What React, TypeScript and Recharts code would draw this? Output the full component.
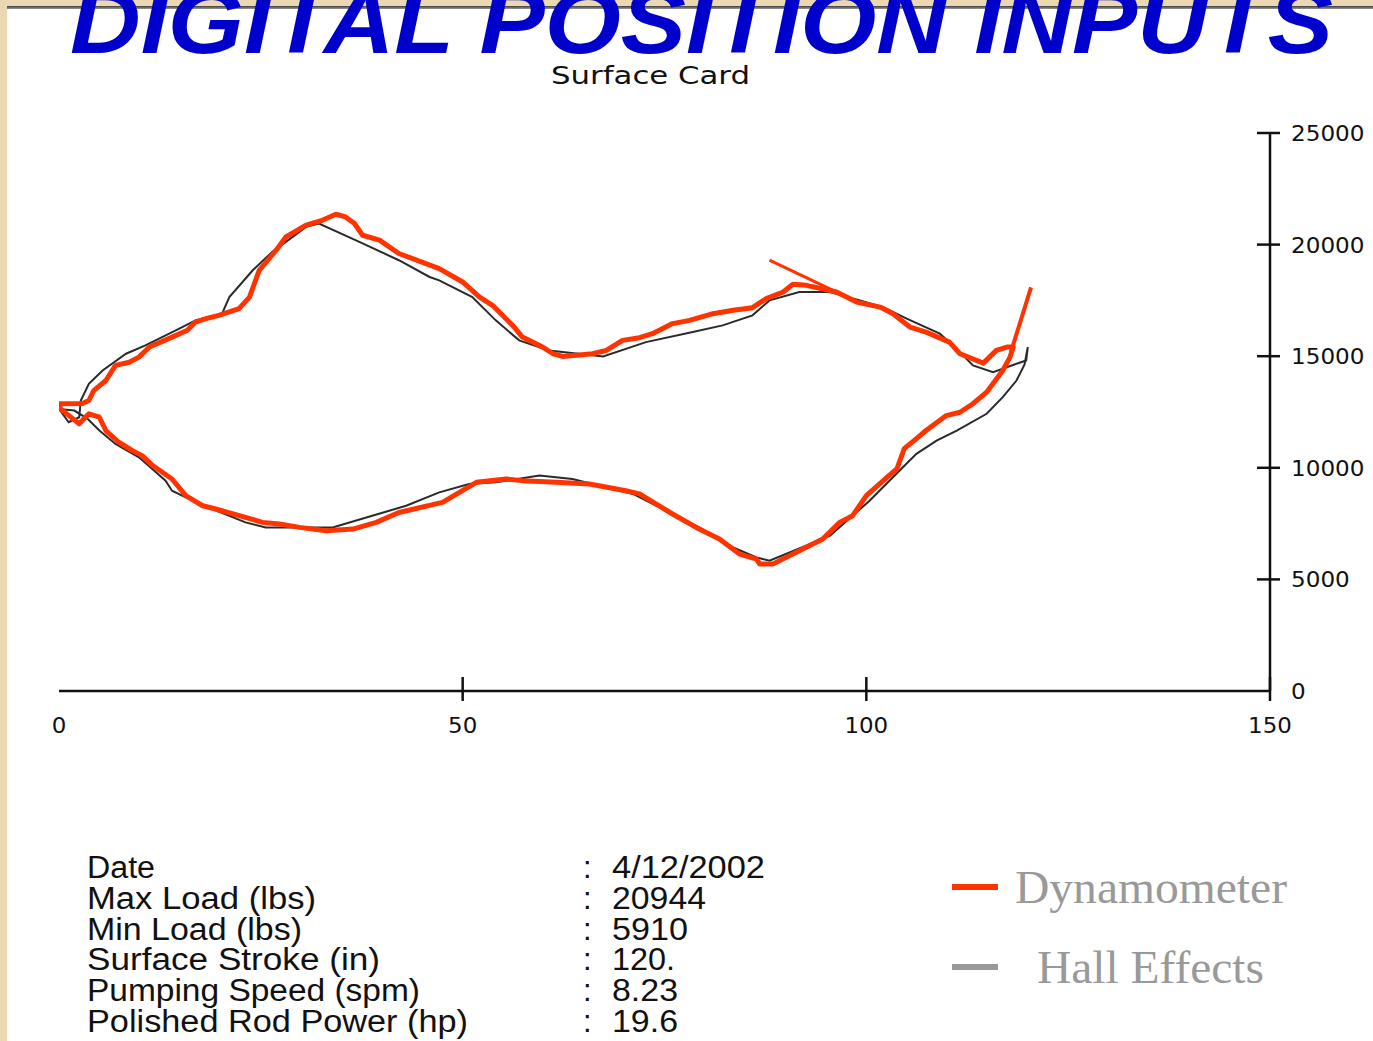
import { Legend, Line, LineChart, XAxis, YAxis } from "recharts";

const W = 1373;
const H = 1041;

// Dynamometer card (red): position (in) and load (lbs), in drawing order
const dynPos = [
  0, 2.9, 3.7, 4.3, 5.8, 7.0, 8.7, 9.9, 11.2, 14.0, 15.9, 16.9, 18.2, 19.8, 22.3, 23.6, 24.8, 26.9, 28.1, 30.6,
  32.6, 34.3, 35.5, 36.6, 37.6, 39.7, 42.1, 47.1, 50.0, 52.1, 53.7, 56.2, 57.4, 59.9, 61.2, 62.4, 66.1, 67.8, 69.8, 71.9,
  73.5, 76.0, 78.1, 81.0, 83.5, 85.9, 87.6, 89.7, 90.9, 92.6, 96.3, 98.8, 101.7, 103.3, 105.4, 107.4, 110.3, 111.6, 114.5, 116.1,
  117.4, 118.2,
  117.8, 116.9, 114.9, 113.2, 111.6, 109.9, 107.4, 106.2, 104.7, 103.8, 102.1, 100.0, 98.3, 96.7, 94.6, 91.7, 88.4, 86.8, 86.4, 84.3,
  81.8, 79.3, 76.0, 71.9, 70.2, 65.7, 61.6, 57.4, 55.4, 51.7, 49.6, 47.5, 42.1, 39.3, 36.4, 33.1, 29.8, 27.3, 25.2, 23.1,
  19.4, 17.8, 15.7, 14.0, 11.6, 10.3, 9.1, 7.4, 5.8, 5.0, 3.7, 2.5, 0.2, 0,
];
const dynLoad = [
  12870, 12880, 13015, 13460, 13910, 14590, 14730, 14960, 15410, 15855, 16160, 16530, 16680, 16830, 17130, 17650, 18850, 19750, 20340, 20870,
  21090, 21360, 21240, 20945, 20420, 20200, 19600, 18925, 18325, 17650, 17280, 16380, 15855, 15410, 15110, 14990, 15110, 15260, 15710, 15830,
  16010, 16460, 16605, 16905, 17055, 17175, 17580, 17875, 18220, 18175, 17875, 17425, 17200, 16905, 16305, 16080, 15630, 15110, 14690, 15260,
  15410, 15410,
  14960, 14360, 13390, 12870, 12490, 12340, 11670, 11310, 10860, 9965, 9425, 8750, 7855, 7555, 6810, 6285, 5685, 5685, 5910, 6135,
  6810, 7255, 7930, 8830, 8975, 9275, 9350, 9425, 9500, 9350, 8900, 8450, 8000, 7555, 7255, 7180, 7330, 7480, 7555, 7780,
  8155, 8300, 8750, 9500, 10100, 10545, 10770, 11145, 11670, 12265, 12420, 11970, 12640, 12870,
];

// the two thin red spikes on the dynamometer trace
const spikeA = { pos: [88.0, 96.4], load: [19300, 17860] };
const spikeB = { pos: [117.9, 120.4], load: [15170, 18085] };

// Hall effects card (dark)
const hallPos = [
  0, 1.2, 2.5, 2.7, 3.7, 5.4, 8.3, 10.7, 14.9, 16.9, 20.2, 21.1, 24.0, 26.4, 28.1, 30.6, 32.2, 37.2, 42.1, 45.9,
  47.1, 51.2, 54.1, 57.0, 60.7, 67.4, 72.7, 78.5, 82.2, 85.9, 88.0, 91.7, 95.5, 99.2, 102.1, 105.0, 109.1, 111.2, 113.2, 115.7,
  118.6, 119.8, 120.0, 119.6, 118.6, 116.9, 114.9, 111.2, 108.7, 106.2, 103.7, 100.4, 95.5, 90.5, 88.0, 86.4, 83.5, 79.3, 76.0, 71.1,
  63.6, 59.5, 54.1, 50.8, 47.1, 43.0, 38.8, 33.9, 25.6, 23.1, 19.0, 15.7, 14.0, 13.2, 9.9, 7.0, 5.0, 3.5, 1.9, 0,
];
const hallLoad = [
  12640, 12040, 12265, 13015, 13765, 14360, 15110, 15485, 16235, 16605, 16905, 17650, 18850, 19670, 20120, 20795, 20945, 20120, 19300, 18550,
  18400, 17650, 16605, 15710, 15260, 14990, 15630, 16080, 16380, 16830, 17500, 17875, 17875, 17500, 17200, 16680, 16010, 15335, 14585, 14285,
  14660, 14810, 15410, 14630, 13910, 13165, 12420, 11670, 11220, 10625, 9725, 8525, 6955, 6205, 5835, 5985, 6430, 7330, 7930, 8830,
  9500, 9650, 9350, 9275, 8900, 8300, 7855, 7330, 7330, 7555, 8155, 8675, 8975, 9425, 10470, 11070, 11670, 12205, 12565, 12640,
];

const xTicks = [0, 50, 100, 150];
const yTicks = [0, 5000, 10000, 15000, 20000, 25000];

const infoLabels = [
  "Date",
  "Max Load (lbs)",
  "Min Load (lbs)",
  "Surface Stroke (in)",
  "Pumping Speed (spm)",
  "Polished Rod Power (hp)",
];
const infoValues = ["4/12/2002", "20944", "5910", "120.", "8.23", "19.6"];
const infoLabelWidths = [68, 229, 215, 293, 333, 381];
const infoValueWidths = [153, 94, 76, 63, 66, 66];

const legendColors: Record<string, string> = {
  Dynamometer: "#FF3300",
  "Hall Effects": "#999999",
};

const toPoints = (pos: number[], load: number[]) => pos.map((p, i) => ({ pos: p, load: load[i] }));

const dynData = toPoints(dynPos, dynLoad);
const hallData = toPoints(hallPos, hallLoad);
const spikeAData = toPoints(spikeA.pos, spikeA.load);
const spikeBData = toPoints(spikeB.pos, spikeB.load);

const AXIS = "#111";
const TICK_FONT = "'DejaVu Sans', 'Liberation Sans', sans-serif";

function XTick(props: any) {
  const { x, y, payload } = props;
  const label = String(payload.value);
  return (
    <g>
      {payload.value !== 0 && (
        <line x1={x} x2={x} y1={y - 14} y2={y + 10} stroke={AXIS} strokeWidth={2.5} />
      )}
      <text
        x={x}
        y={y + 42}
        textAnchor="middle"
        fontFamily={TICK_FONT}
        fontSize={22}
        fill={AXIS}
        textLength={label.length * 14.6}
        lengthAdjust="spacingAndGlyphs"
      >
        {label}
      </text>
    </g>
  );
}

function YTick(props: any) {
  const { x, y, payload } = props;
  const label = String(payload.value);
  return (
    <g>
      {payload.value !== 0 && (
        <line x1={x - 13} x2={x + 10} y1={y} y2={y} stroke={AXIS} strokeWidth={2.5} />
      )}
      <text
        x={x + 21}
        y={y + 8}
        fontFamily={TICK_FONT}
        fontSize={22}
        fill={AXIS}
        textLength={label.length * 14.7}
        lengthAdjust="spacingAndGlyphs"
      >
        {label}
      </text>
    </g>
  );
}

function CardLegend(props: any) {
  const items = (props.payload || []).filter((p: any) => legendColors[p.value]);
  return (
    <svg width={420} height={160}>
      {items.map((item: any, i: number) => {
        const lineY = i === 0 ? 37 : 117;
        const textX = i === 0 ? 75 : 97;
        const width = i === 0 ? 272 : 227;
        return (
          <g key={item.value}>
            <line x1={12} x2={58} y1={lineY} y2={lineY} stroke={legendColors[item.value]} strokeWidth={6} />
            <text
              x={textX}
              y={lineY + 16}
              fontFamily="'Liberation Serif', 'Times New Roman', serif"
              fontSize={47}
              fill="#999999"
              textLength={width}
              lengthAdjust="spacingAndGlyphs"
            >
              {item.value}
            </text>
          </g>
        );
      })}
    </svg>
  );
}

export default function App() {
  return (
    <div
      style={{
        position: "fixed",
        left: 0,
        top: 0,
        width: W,
        height: H,
        background: "#ffffff",
        overflow: "hidden",
      }}
    >
      {/* slide frame */}
      <div style={{ position: "absolute", left: 0, top: 0, width: 7, height: H, background: "#EBD8B2" }} />
      <div style={{ position: "absolute", left: 0, top: 0, width: W, height: 6, background: "#EBD8B2" }} />
      <div
        style={{
          position: "absolute",
          left: 7,
          top: 6,
          width: W - 7,
          height: 3,
          background: "linear-gradient(#3c3c3c, #9a9a9a)",
        }}
      />

      <div style={{ position: "absolute", left: 0, top: 0 }}>
        <LineChart width={W} height={H} margin={{ top: 133, right: 0, bottom: 310, left: 59 }}>
          <XAxis
            dataKey="pos"
            type="number"
            domain={[0, 150]}
            ticks={xTicks}
            allowDataOverflow
            height={40}
            tickSize={0}
            tickMargin={0}
            tickLine={false}
            axisLine={{ stroke: AXIS, strokeWidth: 2.5 }}
            tick={<XTick />}
          />
          <YAxis
            orientation="right"
            type="number"
            domain={[0, 25000]}
            ticks={yTicks}
            allowDataOverflow
            width={103}
            tickSize={0}
            tickMargin={0}
            tickLine={false}
            axisLine={{ stroke: AXIS, strokeWidth: 2.5 }}
            tick={<YTick />}
          />
          <Legend
            layout="vertical"
            align="center"
            verticalAlign="middle"
            wrapperStyle={{ left: 940, top: 850, width: 420, height: 160 }}
            content={<CardLegend />}
          />
          <Line
            name="Hall Effects"
            data={hallData}
            dataKey="load"
            type="linear"
            stroke="#2a2a2a"
            strokeWidth={2}
            dot={false}
            activeDot={false}
            isAnimationActive={false}
          />
          <Line
            name="Dynamometer"
            data={dynData}
            dataKey="load"
            type="linear"
            stroke="#FF3300"
            strokeWidth={5}
            strokeLinejoin="round"
            dot={false}
            activeDot={false}
            isAnimationActive={false}
          />
          <Line
            name="spikeA"
            legendType="none"
            data={spikeAData}
            dataKey="load"
            stroke="#FF3300"
            strokeWidth={3}
            dot={false}
            activeDot={false}
            isAnimationActive={false}
          />
          <Line
            name="spikeB"
            legendType="none"
            data={spikeBData}
            dataKey="load"
            stroke="#FF3300"
            strokeWidth={4}
            dot={false}
            activeDot={false}
            isAnimationActive={false}
          />
        </LineChart>
      </div>

      {/* titles and the well-test table */}
      <svg
        width={W}
        height={H}
        style={{ position: "absolute", left: 0, top: 0, pointerEvents: "none" }}
      >
        <text
          x={70}
          y={53}
          fontFamily="'Liberation Sans', Arial, sans-serif"
          fontWeight="bold"
          fontStyle="italic"
          fontSize={90}
          fill="#0000CC"
          textLength={1263}
          lengthAdjust="spacingAndGlyphs"
        >
          DIGITAL POSITION INPUTS
        </text>
        <text
          x={551}
          y={84}
          fontFamily={TICK_FONT}
          fontSize={24}
          fill="#111"
          textLength={199}
          lengthAdjust="spacingAndGlyphs"
        >
          Surface Card
        </text>
        {infoLabels.map((label, i) => {
          const baseline = 878 + i * 30.8;
          return (
            <g key={label} fontFamily="'Liberation Sans', Arial, sans-serif" fontSize={31} fill="#111">
              <text x={87} y={baseline} textLength={infoLabelWidths[i]} lengthAdjust="spacingAndGlyphs">
                {label}
              </text>
              <text x={583} y={baseline}>:</text>
              <text x={612} y={baseline} textLength={infoValueWidths[i]} lengthAdjust="spacingAndGlyphs">
                {infoValues[i]}
              </text>
            </g>
          );
        })}
      </svg>
    </div>
  );
}
